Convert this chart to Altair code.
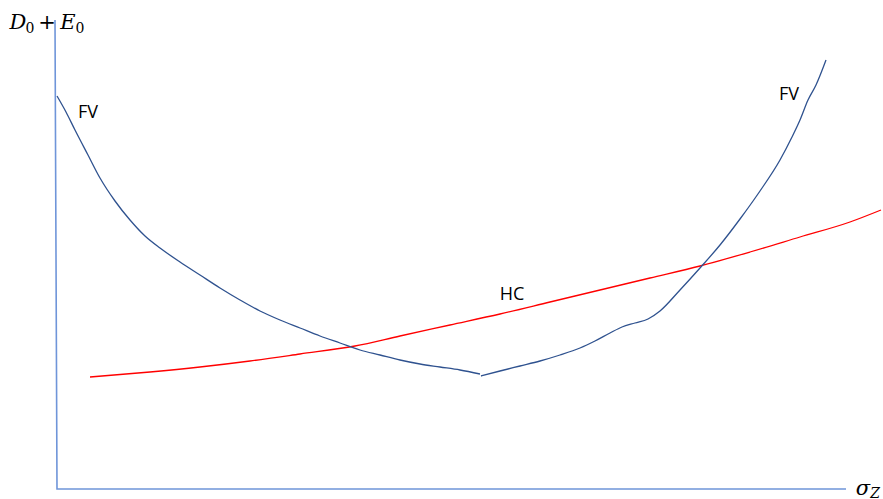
import altair as alt
import pandas as pd

W, H = 883, 499

# Curves in diagram coordinates (x to the right, y downward from top)
fv1_x = [57, 66, 75, 88, 100, 115, 130, 145, 160, 180, 200, 220, 240, 260, 280, 300, 320, 340, 360, 380, 400, 420, 440, 460, 480]
fv1_y = [96, 112, 130, 155, 178, 201, 220, 236, 248, 262, 275, 288, 300, 311, 320, 328, 336, 343, 350, 355, 360, 364, 367, 370, 374]
fv2_x = [481, 500, 520, 540, 560, 580, 595, 610, 622, 635, 648, 660, 680, 700, 720, 740, 760, 780, 792, 800, 808, 816, 826]
fv2_y = [376, 371, 366, 361, 355, 348, 341, 333, 327, 323, 319, 311, 290, 268, 245, 219, 191, 160, 137, 120, 100, 85, 60]
hc_x = [90, 150, 200, 250, 300, 355, 400, 450, 500, 550, 600, 650, 700, 750, 800, 850, 881]
hc_y = [377, 372, 367, 361, 354, 346, 336, 325, 314, 302, 290, 278, 266, 252, 237, 222, 210]
axis_x = [55, 57, 846]
axis_y = [20, 489, 489]

labels = ["FV", "FV", "HC"]
label_x = [88, 789, 512]
label_y = [113, 95, 295]

# axis-title pieces: italic letters, upright subscripts / operator
big_italic_t = ["D", "E", "σ"]
big_italic_x = [18, 68, 863]
big_italic_y = [23, 23, 489]
sub_t = ["0", "0"]
sub_x = [30, 80]
sub_y = [29, 29]
plus_t = ["+"]
plus_x = [47]
plus_y = [23]
subz_t = ["Z"]
subz_x = [875]
subz_y = [494]

rows = []
for x, y in zip(fv1_x, fv1_y):
    rows.append({"x": x, "y": y, "s": "fv1"})
for x, y in zip(fv2_x, fv2_y):
    rows.append({"x": x, "y": y, "s": "fv2"})
curves = pd.DataFrame(rows)
hc = pd.DataFrame({"x": hc_x, "y": hc_y})
ax = pd.DataFrame({"x": axis_x, "y": axis_y, "o": list(range(3))})
lab = pd.DataFrame({"t": labels, "x": label_x, "y": label_y})

xs = alt.Scale(domain=[0, W], nice=False, zero=False)
ys = alt.Scale(domain=[0, H], nice=False, zero=False, reverse=True)
X = alt.X("x:Q", scale=xs, axis=None)
Y = alt.Y("y:Q", scale=ys, axis=None)


def tlayer(t, x, y, size, style):
    df = pd.DataFrame({"t": t, "x": x, "y": y})
    return alt.Chart(df).mark_text(font="DejaVu Serif", fontSize=size, fontStyle=style,
                                   color="black").encode(x=X, y=Y, text="t:N")


axes = alt.Chart(ax).mark_line(color="#6f95d9", strokeWidth=1.6).encode(x=X, y=Y, order="o:Q")
fv = alt.Chart(curves).mark_line(color="#2f528f", strokeWidth=1.3, interpolate="monotone").encode(
    x=X, y=Y, detail="s:N")
hcl = alt.Chart(hc).mark_line(color="#ff0000", strokeWidth=1.3, interpolate="monotone").encode(x=X, y=Y)
txt = alt.Chart(lab).mark_text(font="Open Sans", fontSize=18, color="black").encode(
    x=X, y=Y, text="t:N")

chart = alt.layer(
    axes, hcl, fv, txt,
    tlayer(big_italic_t, big_italic_x, big_italic_y, 21, "italic"),
    tlayer(sub_t, sub_x, sub_y, 14, "normal"),
    tlayer(plus_t, plus_x, plus_y, 21, "normal"),
    tlayer(subz_t, subz_x, subz_y, 14, "italic"),
).properties(
    width=W, height=H, autosize=alt.AutoSizeParams(type="none"), padding=0,
    background="white").configure_view(stroke=None)

chart.save("out.html", embed_options={"renderer": "svg", "actions": False})
